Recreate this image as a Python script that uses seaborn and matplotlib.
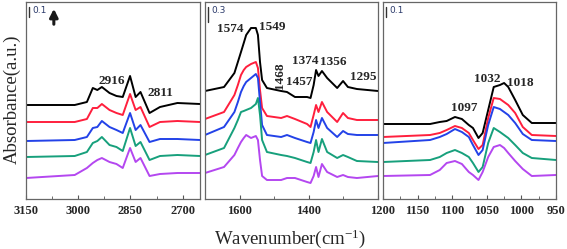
import numpy as np
import pandas as pd
import matplotlib
matplotlib.use('Agg')
import matplotlib.pyplot as plt
from matplotlib.ticker import AutoMinorLocator
import seaborn as sns

samples = ['a', 'b', 'c', 'd', 'e']
colors = ['#000000', '#ff1f3d', '#2342e8', '#17a07c', '#b447f0']

# C-H stretching region
wn_ch = [3150, 3010, 2975, 2958, 2945, 2932, 2910, 2890, 2872, 2851, 2835, 2821, 2795, 2765, 2715, 2650]
ch_a = [0.94, 0.94, 0.97, 1.11, 1.09, 1.12, 1.06, 1.03, 1.02, 1.23, 1.02, 1.07, 0.86, 0.92, 0.96, 0.95]
ch_b = [0.77, 0.77, 0.80, 0.91, 0.91, 0.95, 0.89, 0.86, 0.84, 1.05, 0.89, 0.92, 0.72, 0.77, 0.78, 0.77]
ch_c = [0.58, 0.59, 0.62, 0.71, 0.72, 0.78, 0.72, 0.69, 0.66, 0.86, 0.69, 0.74, 0.57, 0.60, 0.60, 0.59]
ch_d = [0.42, 0.43, 0.47, 0.56, 0.58, 0.62, 0.54, 0.52, 0.48, 0.71, 0.53, 0.57, 0.39, 0.43, 0.44, 0.43]
ch_e = [0.21, 0.24, 0.31, 0.36, 0.39, 0.41, 0.37, 0.35, 0.31, 0.51, 0.37, 0.41, 0.23, 0.25, 0.26, 0.26]

# carboxylate region
wn_coo = [1700, 1645, 1615, 1605, 1596, 1588, 1581, 1567, 1553, 1547, 1541, 1535, 1521, 1480, 1463,
          1440, 1405, 1395, 1386, 1379, 1372, 1362, 1347, 1318, 1301, 1287, 1261, 1200]
coo_a = [1.08, 1.12, 1.26, 1.37, 1.47, 1.56, 1.64, 1.71, 1.71, 1.64, 1.37, 1.19, 1.11, 1.08, 1.07,
         1.02, 1.02, 1.01, 1.14, 1.29, 1.23, 1.28, 1.21, 1.11, 1.18, 1.12, 1.10, 1.08]
coo_b = [0.80, 0.87, 1.04, 1.14, 1.24, 1.29, 1.32, 1.35, 1.37, 1.31, 1.09, 0.91, 0.83, 0.81, 0.83,
         0.80, 0.75, 0.72, 0.84, 0.94, 0.87, 0.97, 0.87, 0.77, 0.86, 0.81, 0.79, 0.79]
coo_c = [0.64, 0.72, 0.87, 0.97, 1.07, 1.13, 1.17, 1.21, 1.25, 1.21, 0.97, 0.74, 0.64, 0.62, 0.64,
         0.61, 0.57, 0.56, 0.67, 0.79, 0.71, 0.81, 0.71, 0.62, 0.68, 0.65, 0.64, 0.64]
coo_d = [0.44, 0.51, 0.71, 0.79, 0.87, 0.88, 0.89, 0.91, 0.95, 1.01, 0.84, 0.59, 0.47, 0.44, 0.43,
         0.41, 0.37, 0.36, 0.47, 0.59, 0.47, 0.60, 0.47, 0.41, 0.44, 0.42, 0.38, 0.37]
coo_e = [0.26, 0.32, 0.44, 0.51, 0.57, 0.61, 0.64, 0.61, 0.63, 0.59, 0.39, 0.23, 0.19, 0.19, 0.21,
         0.21, 0.17, 0.16, 0.23, 0.32, 0.22, 0.35, 0.27, 0.22, 0.24, 0.22, 0.21, 0.23]

# C-O region
wn_co = [1200, 1132, 1118, 1108, 1096, 1086, 1076, 1070, 1062, 1056, 1048, 1040, 1031, 1025, 1019, 1009, 998, 985, 950]
co_a = [0.75, 0.75, 0.77, 0.78, 0.82, 0.80, 0.74, 0.71, 0.61, 0.66, 0.89, 1.12, 1.14, 1.16, 1.12, 0.99, 0.84, 0.76, 0.76]
co_b = [0.62, 0.64, 0.66, 0.69, 0.73, 0.71, 0.66, 0.59, 0.50, 0.54, 0.81, 1.01, 1.00, 0.97, 0.94, 0.86, 0.72, 0.64, 0.63]
co_c = [0.56, 0.59, 0.62, 0.65, 0.70, 0.67, 0.62, 0.54, 0.44, 0.49, 0.74, 0.92, 0.90, 0.87, 0.84, 0.76, 0.65, 0.59, 0.58]
co_d = [0.37, 0.39, 0.42, 0.46, 0.49, 0.46, 0.42, 0.36, 0.27, 0.32, 0.56, 0.71, 0.67, 0.64, 0.61, 0.54, 0.46, 0.41, 0.39]
co_e = [0.23, 0.24, 0.29, 0.36, 0.38, 0.35, 0.27, 0.24, 0.19, 0.27, 0.42, 0.52, 0.54, 0.51, 0.46, 0.38, 0.30, 0.23, 0.24]

ch_ticks = [3150, 3000, 2850, 2700]
coo_ticks = [1600, 1400, 1200]
co_ticks = [1200, 1150, 1100, 1050, 1000, 950]


def long_frame(wn, series):
    parts = []
    for name, vals in zip(samples, series):
        parts.append(pd.DataFrame({'wn': wn, 'A': vals, 'sample': name}))
    return pd.concat(parts, ignore_index=True)


sns.set_theme(style='white')
plt.rcParams['font.family'] = ['Liberation Serif', 'DejaVu Serif']
plt.rcParams['mathtext.fontset'] = 'custom'
plt.rcParams['mathtext.rm'] = 'Liberation Serif'
plt.rcParams['mathtext.it'] = 'Liberation Serif:italic'

fig = plt.figure(figsize=(5.67, 2.49), dpi=100)
boxes = [[26 / 567, 50 / 249, 174 / 567, 197 / 249],
         [205 / 567, 50 / 249, 173 / 567, 197 / 249],
         [383 / 567, 50 / 249, 173 / 567, 197 / 249]]
panels = [
    (wn_ch, [ch_a, ch_b, ch_c, ch_d, ch_e], (3150, 2650), ch_ticks, ch_ticks, '0.1'),
    (wn_coo, [coo_a, coo_b, coo_c, coo_d, coo_e], (1700, 1200), coo_ticks, ['1600', '1400', ''], '0.3'),
    (wn_co, [co_a, co_b, co_c, co_d, co_e], (1200, 950), co_ticks, co_ticks, '0.1'),
]
axes = []
for box, (wn, series, lim, ticks, labels, bar) in zip(boxes, panels):
    ax = fig.add_axes(box)
    df = long_frame(wn, series)
    sns.lineplot(data=df, x='wn', y='A', hue='sample', palette=colors,
                 estimator=None, legend=False, lw=1.4, ax=ax)
    ax.set_xlim(*lim)
    ax.set_ylim(0, 1.97)
    ax.set_yticks([])
    ax.set_xticks(ticks)
    ax.set_xticklabels(labels, fontweight='bold', fontsize=9)
    ax.xaxis.set_minor_locator(AutoMinorLocator(2))
    ax.tick_params(axis='x', which='major', direction='in', length=3, width=0.8,
                   bottom=True, pad=4, color='#555555')
    ax.tick_params(axis='x', which='minor', direction='in', length=2, width=0.6,
                   bottom=True, color='#555555')
    ax.set_xlabel('')
    ax.set_ylabel('')
    for sp in ax.spines.values():
        sp.set_color('#666666')
        sp.set_linewidth(0.9)
    # scale bar
    ax.plot([0.018, 0.018], [0.925 if bar == '0.1' else 0.9, 0.975], color='#333333',
            lw=1.0, transform=ax.transAxes)
    ax.text(0.035, 0.955, bar, transform=ax.transAxes, fontsize=6.5,
            family='DejaVu Sans', color='#2b3a6b', va='center', ha='left')
    axes.append(ax)

ax1, ax2, ax3 = axes
bold = dict(fontweight='bold', fontsize=9.5, ha='center', va='center')
ax1.text(2903, 1.18, '2916', **bold)
ax1.text(2765, 1.06, '2811', **bold)
ax1.annotate('', xy=(3070, 1.93), xytext=(3070, 1.72),
             arrowprops=dict(arrowstyle='-|>', color='k', lw=2.2, mutation_scale=12))

ax2.text(1628, 1.70, '1574', **bold)
ax2.text(1506, 1.72, '1549', **bold)
ax2.text(1483, 1.23, '1468', rotation=90, **bold)
ax2.text(1428, 1.17, '1457', **bold)
ax2.text(1411, 1.38, '1374', **bold)
ax2.text(1330, 1.37, '1356', **bold)
ax2.text(1243, 1.22, '1295', **bold)

ax3.text(1083, 0.91, '1097', **bold)
ax3.text(1050, 1.20, '1032', **bold)
ax3.text(1002, 1.16, '1018', **bold)

fig.text(0.022, 0.6, 'Absorbance(a.u.)', rotation=90, fontsize=13.5,
         ha='center', va='center')
fig.text(0.512, 0.04, 'Wavenumber(cm$^{-1}$)', fontsize=13.5, ha='center', va='center')

fig.savefig('out.png', dpi=100)
